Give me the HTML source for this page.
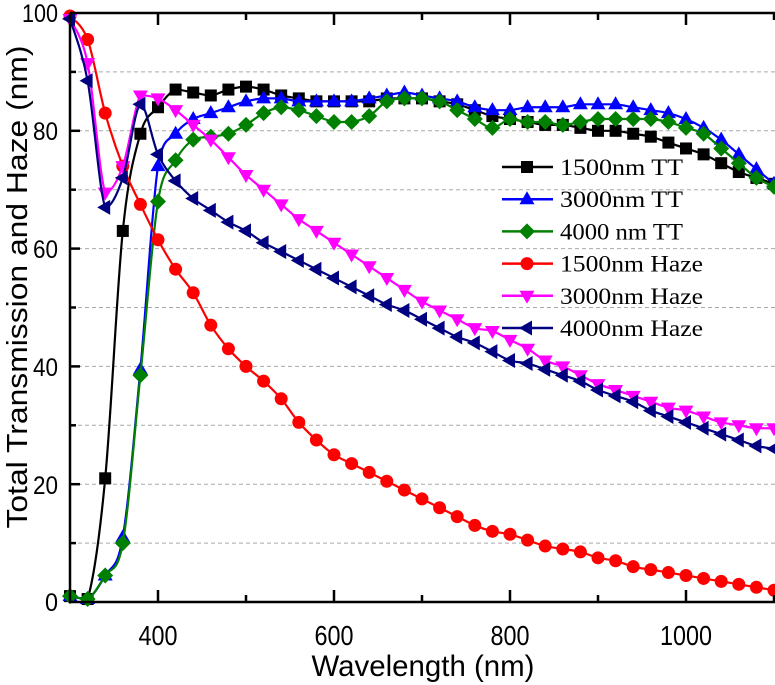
<!DOCTYPE html>
<html><head><meta charset="utf-8"><style>body{margin:0;background:#fff}svg{display:block}</style></head>
<body>
<svg id="s" width="775" height="685" xmlns="http://www.w3.org/2000/svg" font-family="Liberation Sans, sans-serif">
<g id="grid" stroke="#aaa" stroke-dasharray="4,3" stroke-width="1"></g>
<g id="data"></g>
<g stroke="#000" stroke-width="2.5" fill="none">
<line x1="70" y1="13" x2="775" y2="13"/><line x1="70" y1="13" x2="70" y2="603"/><line x1="69" y1="602" x2="775" y2="602"/>
</g>
<g id="ticks" stroke="#000" stroke-width="2.5"></g>
<g font-size="25" text-anchor="end" lengthAdjust="spacingAndGlyphs">
<text x="58" y="611" textLength="13" lengthAdjust="spacingAndGlyphs">0</text>
<text x="58" y="494" textLength="25" lengthAdjust="spacingAndGlyphs">20</text>
<text x="58" y="376" textLength="25" lengthAdjust="spacingAndGlyphs">40</text>
<text x="58" y="258" textLength="25" lengthAdjust="spacingAndGlyphs">60</text>
<text x="58" y="140" textLength="25" lengthAdjust="spacingAndGlyphs">80</text>
<text x="58" y="22" textLength="36" lengthAdjust="spacingAndGlyphs">100</text>
</g>
<g font-size="28" text-anchor="middle">
<text x="158" y="645" textLength="39" lengthAdjust="spacingAndGlyphs">400</text>
<text x="334" y="645" textLength="39" lengthAdjust="spacingAndGlyphs">600</text>
<text x="510" y="645" textLength="39" lengthAdjust="spacingAndGlyphs">800</text>
<text x="686" y="645" textLength="52" lengthAdjust="spacingAndGlyphs">1000</text>
</g>
<text x="423" y="676" font-size="30" text-anchor="middle" textLength="223" lengthAdjust="spacingAndGlyphs">Wavelength (nm)</text>
<text transform="translate(27,287) rotate(-90)" font-size="29" text-anchor="middle" textLength="483" lengthAdjust="spacingAndGlyphs">Total Transmission and Haze (nm)</text>
<g id="leg" font-family="Liberation Serif, serif" font-size="23"></g>
</svg>
<script>
const X=w=>70+(w-300)*0.88, Y=v=>602-v*5.89;
const ns="http://www.w3.org/2000/svg";
function el(p,t,a){const e=document.createElementNS(ns,t);for(const k in a)e.setAttribute(k,a[k]);document.getElementById(p).appendChild(e);return e;}
for(let v=10;v<100;v+=10)el("grid","line",{x1:71,x2:775,y1:Y(v),y2:Y(v)});
for(let v=10;v<100;v+=10){const L=v%20==0?10:6;el("ticks","line",{x1:70,x2:70+L,y1:Y(v),y2:Y(v)});}
for(let w=400;w<=1100;w+=100){const L=w%200==0?12:7;el("ticks","line",{x1:X(w),x2:X(w),y1:602,y2:602-L});el("ticks","line",{x1:X(w),x2:X(w),y1:13,y2:13+L});}
const S=[
["#000","sq","1500nm TT",[1,.5,21,63,79.5,84,87,86.5,86,87,87.5,87,86,85.5,85,85,85,85,85.5,85.5,85.5,85,84.5,83.5,82.5,82,81.5,81,81,80.5,80,80,79.5,79,78,77,76,74.5,73,72,71]],
["#0000ff","up","3000nm TT",[1,.5,4.5,11,39.5,74,79.5,82,83,84,85,85.5,85.5,85,85,85,85,85.5,86,86.5,86,85.5,85,84,83.5,83.5,84,84,84,84.5,84.5,84.5,84,83.5,83,82,80.5,78.5,76,73.5,71]],
["#008000","di","4000 nm TT",[1,.5,4.5,10,38.5,68,75,78.5,79,79.5,81,83,84,83.5,82.5,81.5,81.5,82.5,85,85.5,85.5,85,83.5,82,80.5,82,81.5,81.5,81,81.5,82,82,82,82,81.5,80.5,79.5,77,74.5,72,70.5]],
["#ff0000","ci","1500nm Haze",[99.5,95.5,83,74,67.5,61.5,56.5,52.5,47,43,40,37.5,34.5,30.5,27.5,25,23.5,22,20.5,19,17.5,16,14.5,13,12,11.5,10.5,9.5,9,8.5,7.5,7,6,5.5,5,4.5,4,3.5,3,2.5,2]],
["#ff00ff","dn","3000nm Haze",[99,91.5,69.5,74,86,85.5,83.5,81,78.5,75.5,72.5,70,67.5,65,63,61,59,57,55,53,51,49.5,48,46.5,46,44.5,43,41,40,38.5,37,36,35,34,33,32.5,31.5,30.5,30,29.5,29.5]],
["#000080","lf","4000nm Haze",[99,88.5,67,72,84.5,76,71.5,68.5,66.5,64.5,63,61,59.5,58,56.5,55,53.5,52,50.5,49.5,48,46.5,45,44,42.5,41,40.5,39.5,38.5,37.5,36,35,34,32.5,31.5,30.5,29.5,28.5,27.5,26.5,26]]];
function mk(g,t,x,y,c){
 if(t=="sq")el(g,"rect",{x:x-6,y:y-6,width:12,height:12,fill:c});
 else if(t=="ci")el(g,"circle",{cx:x,cy:y,r:6.5,fill:c});
 else if(t=="up")el(g,"polygon",{points:`${x},${y-8} ${x+7.5},${y+5} ${x-7.5},${y+5}`,fill:c});
 else if(t=="dn")el(g,"polygon",{points:`${x},${y+8} ${x+7.5},${y-5} ${x-7.5},${y-5}`,fill:c});
 else if(t=="lf")el(g,"polygon",{points:`${x-8},${y} ${x+5},${y-7.5} ${x+5},${y+7.5}`,fill:c});
 else el(g,"polygon",{points:`${x},${y-8} ${x+8},${y} ${x},${y+8} ${x-8},${y}`,fill:c});
}
const cl=v=>Math.min(Math.max(v,13),602);
function smooth(p){let d=`M${p[0][0]},${p[0][1]}`;for(let i=0;i<p.length-1;i++){const a=p[Math.max(i-1,0)],b=p[i],c=p[i+1],e=p[Math.min(i+2,p.length-1)];
let y1=b[1]+(c[1]-a[1])/6,y2=c[1]-(e[1]-b[1])/6;const lo=Math.min(b[1],c[1]),hi=Math.max(b[1],c[1]);
y1=Math.min(Math.max(y1,lo),hi);y2=Math.min(Math.max(y2,lo),hi);
d+=` C${b[0]+(c[0]-a[0])/6},${cl(y1)} ${c[0]-(e[0]-b[0])/6},${cl(y2)} ${c[0]},${c[1]}`;}return d;}
S.forEach(([c,t,n,v],k)=>{
 const p=v.map((y,i)=>[X(300+20*i),Y(y)]);
 el("data","path",{d:smooth(p),stroke:c,"stroke-width":2.2,fill:"none"});
 p.forEach(q=>mk("data",t,q[0],q[1],c));
 const ly=167+k*32.2;
 el("leg","line",{x1:502,x2:553,y1:ly,y2:ly,stroke:c,"stroke-width":2.5});
 mk("leg",t,527,ly,c);
 const tx=el("leg","text",{x:560,y:ly+8,textLength:n.includes("Haze")?143:123,lengthAdjust:"spacingAndGlyphs"});tx.textContent=n;
});
</script>
</body></html>
